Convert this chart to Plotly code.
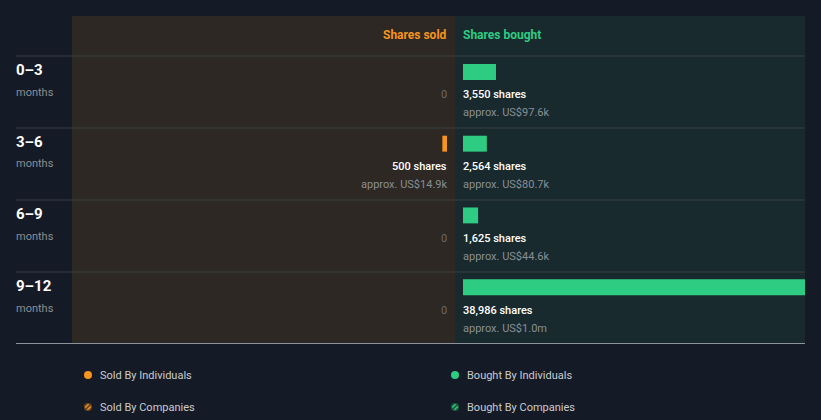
import plotly.graph_objects as go

periods = ["0–3", "3–6", "6–9", "9–12"]
sold_shares = [0, 500, 0, 0]
sold_value = ["", "approx. US$14.9k", "", ""]
bought_shares = [3550, 2564, 1625, 38986]
bought_value = ["approx. US$97.6k", "approx. US$80.7k", "approx. US$44.6k", "approx. US$1.0m"]

W, H = 821, 420
def px(x): return x / W
def py(y): return 1 - y / H

BG = "#151b26"
SOLD_BG = "#2d2823"
BOUGHT_BG = "#182a2e"
ORANGE = "#f7941d"
GREEN = "#2ecc82"
GREY = "#8a8e94"
FONT = "Roboto"
LS = -2   # compensate annotation padding for left-anchored text
RS = 2    # for right-anchored text

def ann(text, x, y, xanchor, size, color, xref="paper", yref="paper", yshift=0, weight=None):
    f = dict(family=FONT, size=size, color=color)
    if weight:
        f["weight"] = weight
    return dict(text=text, xref=xref, yref=yref, x=x, y=y, xanchor=xanchor, yanchor="middle",
                showarrow=False, yshift=yshift, xshift=LS if xanchor == "left" else RS, font=f)

fig = go.Figure()
fig.add_trace(go.Bar(y=periods, x=sold_shares, orientation="h", xaxis="x", yaxis="y",
                     marker=dict(color=ORANGE, line=dict(width=0)), width=0.222, offset=-0.389,
                     hoverinfo="skip", showlegend=False))
fig.add_trace(go.Bar(y=periods, x=bought_shares, orientation="h", xaxis="x2", yaxis="y",
                     marker=dict(color=GREEN, line=dict(width=0)), width=0.222, offset=-0.389,
                     hoverinfo="skip", showlegend=False))

shapes = [
    dict(type="rect", xref="paper", yref="paper", x0=px(72), x1=px(455), y0=py(16), y1=py(343),
         fillcolor=SOLD_BG, line=dict(width=0), layer="below"),
    dict(type="rect", xref="paper", yref="paper", x0=px(455), x1=px(805), y0=py(16), y1=py(343),
         fillcolor=BOUGHT_BG, line=dict(width=0), layer="below"),
]
for yl in [56, 128, 200, 272]:
    shapes.append(dict(type="line", xref="paper", yref="paper", x0=px(16), x1=px(805), y0=py(yl), y1=py(yl),
                       line=dict(color="#3b3e42", width=1), layer="above"))
shapes.append(dict(type="line", xref="paper", yref="paper", x0=px(16), x1=px(805), y0=py(343.5), y1=py(343.5),
                   line=dict(color="#8d939b", width=1), layer="above"))

annotations = [
    ann("<b>Shares sold</b>", px(447), py(35), "right", 12, ORANGE),
    ann("<b>Shares bought</b>", px(463), py(35), "left", 12, GREEN),
]
for i, p in enumerate(periods):
    top = 56 + 72 * i
    annotations.append(ann("<b>" + p + "</b>", px(16), py(top + 14), "left", 15, "#ffffff"))
    annotations.append(ann("months", px(16), py(top + 36), "left", 11, GREY))
    if sold_shares[i] == 0:
        annotations.append(ann("0", 0, p, "right", 11, "#6c6a68", xref="x", yref="y", yshift=-3))
    else:
        annotations.append(ann(f"{sold_shares[i]:,} shares", 0, p, "right", 11, "#ffffff",
                               xref="x", yref="y", yshift=-3, weight=500))
        annotations.append(ann(sold_value[i], 0, p, "right", 11, GREY, xref="x", yref="y", yshift=-21))
    annotations.append(ann(f"{bought_shares[i]:,} shares", 0, p, "left", 11, "#ffffff",
                           xref="x2", yref="y", yshift=-3, weight=500))
    annotations.append(ann(bought_value[i], 0, p, "left", 11, GREY, xref="x2", yref="y", yshift=-21))

# legend
legend_items = [
    ("Sold By Individuals", ORANGE, "#6a4623", 88, 375, False),
    ("Bought By Individuals", GREEN, "#1e5a40", 455, 375, False),
    ("Sold By Companies", ORANGE, "#6a4623", 88, 407, True),
    ("Bought By Companies", GREEN, "#1e5a40", 455, 407, True),
]
r = 4
for label, col, dark, cx, cy, striped in legend_items:
    shapes.append(dict(type="circle", xref="paper", yref="paper", x0=px(cx - r), x1=px(cx + r),
                       y0=py(cy + r), y1=py(cy - r), fillcolor=dark if striped else col,
                       line=dict(width=0)))
    if striped:
        for d, L in ((-1.6, 2.4), (1.6, 2.4)):
            mx, my = cx + d * 0.707, cy + d * 0.707
            shapes.append(dict(type="line", xref="paper", yref="paper",
                               x0=px(mx - L * 0.707), y0=py(my + L * 0.707),
                               x1=px(mx + L * 0.707), y1=py(my - L * 0.707),
                               line=dict(color=col, width=1.3)))
    annotations.append(ann(label, px(cx + 12), py(cy), "left", 11, "#c9cbce"))

fig.update_layout(
    width=W, height=H, margin=dict(l=0, r=0, t=0, b=0),
    paper_bgcolor=BG, plot_bgcolor="rgba(0,0,0,0)",
    barmode="overlay", showlegend=False,
    xaxis=dict(domain=[px(72), px(447)], range=[40300, 0], visible=False, fixedrange=True),
    xaxis2=dict(domain=[px(463), px(805)], range=[0, 36800], visible=False, fixedrange=True),
    yaxis=dict(domain=[py(343), py(56)], range=[3.5, -0.5], visible=False, type="category",
               categoryorder="array", categoryarray=periods, fixedrange=True),
    shapes=shapes, annotations=annotations,
    font=dict(family=FONT),
)
fig.write_html("out.html", config={"displayModeBar": False})
